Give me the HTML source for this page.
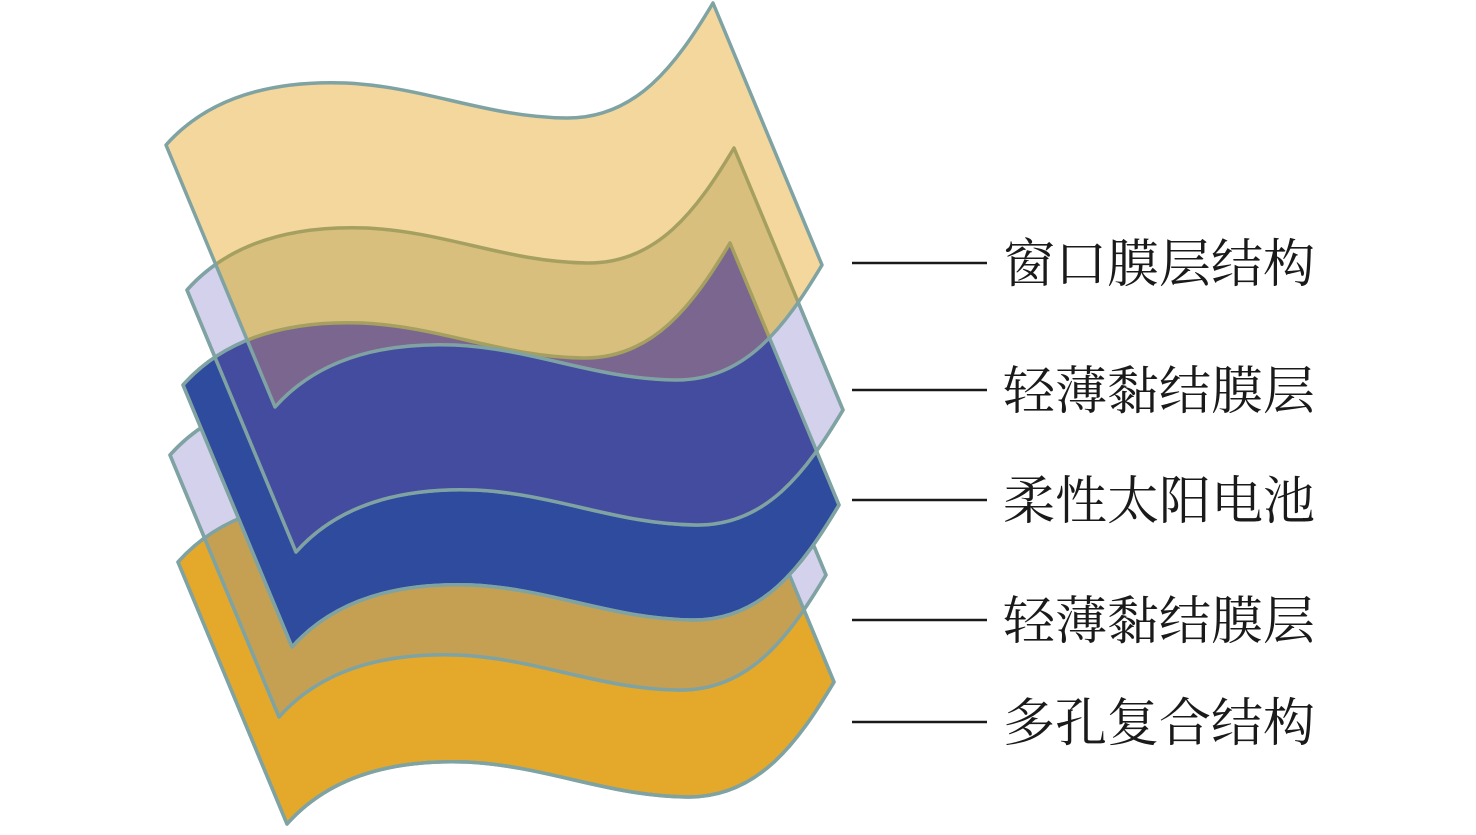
<!DOCTYPE html>
<html><head><meta charset="utf-8"><style>
html,body{margin:0;padding:0;background:#fff;}
svg{display:block}
text{font-family:"Liberation Serif","Noto Serif CJK SC","Noto Sans CJK SC",serif;font-size:52px;fill:#1a1a1a}
</style></head><body>
<svg width="1476" height="835" viewBox="0 0 1476 835" xmlns="http://www.w3.org/2000/svg">
<defs>
<path id="s" d="M0,0 C40,-45 100,-65 180,-62 C260,-58 320,-28 400,-27 C470,-26 510,-80 547,-142 L656,120 C619,182 579,236 509,235 C429,234 369,204 289,200 C209,197 149,217 109,262 Z"/>
<clipPath id="cLav2"><use href="#s" transform="translate(170,455)"/></clipPath>
<clipPath id="cLav1"><use href="#s" transform="translate(187,290)"/></clipPath>
<clipPath id="cYel"><use href="#s" transform="translate(166,145)"/></clipPath>
</defs>
<g stroke="#7fa3a3" stroke-width="3.5" stroke-linejoin="round">
<use href="#s" transform="translate(178,562)" fill="#e4a82a"/>
<use href="#s" transform="translate(170,455)" fill="#d3d1ec"/>
<g clip-path="url(#cLav2)"><use href="#s" transform="translate(178,562)" fill="#c5a052" stroke="none"/></g>
<use href="#s" transform="translate(178,562)" fill="none"/>
<use href="#s" transform="translate(170,455)" fill="none"/>
<use href="#s" transform="translate(183,385)" fill="#2f4b9d"/>
<use href="#s" transform="translate(187,290)" fill="#d3d1ec"/>
<g clip-path="url(#cLav1)"><use href="#s" transform="translate(183,385)" fill="#434c9e" stroke="none"/></g>
<use href="#s" transform="translate(183,385)" fill="none"/>
<use href="#s" transform="translate(187,290)" fill="none"/>
<use href="#s" transform="translate(166,145)" fill="#f4d79c" stroke="none"/>
<g clip-path="url(#cYel)"><use href="#s" transform="translate(187,290)" fill="#d8bf7e" stroke="none"/></g>
<g clip-path="url(#cYel)"><g clip-path="url(#cLav1)"><use href="#s" transform="translate(183,385)" fill="#7b6690" stroke="none"/></g></g>
<g clip-path="url(#cYel)" stroke="#a5a060"><use href="#s" transform="translate(183,385)" fill="none"/><use href="#s" transform="translate(187,290)" fill="none"/></g>
<use href="#s" transform="translate(166,145)" fill="none"/>
</g>
<g stroke="#1a1a1a" stroke-width="2.5">
<line x1="852" y1="263" x2="987" y2="263"/>
<line x1="852" y1="390" x2="987" y2="390"/>
<line x1="852" y1="500" x2="987" y2="500"/>
<line x1="852" y1="620" x2="987" y2="620"/>
<line x1="852" y1="722" x2="987" y2="722"/>
</g>
<text x="1003" y="282">窗口膜层结构</text>
<text x="1003" y="409">轻薄黏结膜层</text>
<text x="1003" y="519">柔性太阳电池</text>
<text x="1003" y="639">轻薄黏结膜层</text>
<text x="1003" y="741">多孔复合结构</text>
</svg>
</body></html>
